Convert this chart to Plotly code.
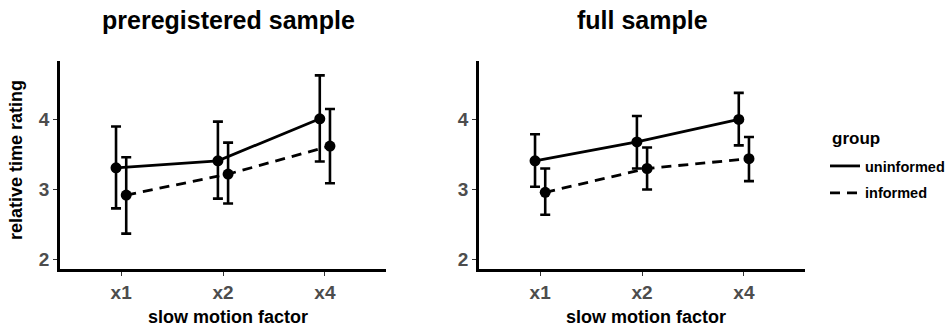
import plotly.graph_objects as go

# ---------------- data ----------------
categories = ["x1", "x2", "x4"]
groups = ["uninformed", "informed"]

pre_uninf_mean = [3.31, 3.41, 4.01]
pre_uninf_lo = [2.73, 2.87, 3.40]
pre_uninf_hi = [3.90, 3.97, 4.63]
pre_inf_mean = [2.92, 3.22, 3.62]
pre_inf_lo = [2.37, 2.80, 3.09]
pre_inf_hi = [3.46, 3.67, 4.15]

full_uninf_mean = [3.41, 3.68, 4.00]
full_uninf_lo = [3.04, 3.30, 3.63]
full_uninf_hi = [3.79, 4.05, 4.38]
full_inf_mean = [2.96, 3.30, 3.44]
full_inf_lo = [2.64, 3.00, 3.12]
full_inf_hi = [3.30, 3.60, 3.75]

y_ticks = [2, 3, 4]
panel_titles = ["preregistered sample", "full sample"]
x_title = "slow motion factor"
y_title = "relative time rating"
legend_title = "group"

# ---------------- figure ----------------
W, H = 950, 332
FONT = "Liberation Sans, Arial, sans-serif"
dodge = {"uninformed": -0.05, "informed": 0.05}
dash = {"uninformed": "solid", "informed": "10px,7px"}

def px_x(v):
    return v / W

def px_y(v):
    return 1 - v / H

panels = [
    ("x", "y", {"uninformed": (pre_uninf_mean, pre_uninf_lo, pre_uninf_hi),
                "informed": (pre_inf_mean, pre_inf_lo, pre_inf_hi)}),
    ("x2", "y2", {"uninformed": (full_uninf_mean, full_uninf_lo, full_uninf_hi),
                  "informed": (full_inf_mean, full_inf_lo, full_inf_hi)}),
]

fig = go.Figure()
idx = list(range(1, len(categories) + 1))
for xa, ya, data in panels:
    for g in groups:
        m, lo, hi = data[g]
        fig.add_trace(go.Scatter(
            x=[i + dodge[g] for i in idx], y=m,
            xaxis=xa, yaxis=ya,
            mode="lines+markers",
            line=dict(color="black", width=2.8, dash=dash[g]),
            marker=dict(color="black", size=11),
            error_y=dict(type="data", symmetric=False,
                         array=[h - v for h, v in zip(hi, m)],
                         arrayminus=[v - l for v, l in zip(m, lo)],
                         color="black", thickness=2.6, width=5),
            showlegend=False, name=g,
        ))

# legend-only traces (line only, like the ggplot key)
for k, g in enumerate(groups):
    fig.add_trace(go.Scatter(
        x=[None], y=[None], mode="lines", name="<b>" + g + "</b>", legendgroup=g,
        line=dict(color="black", width=2.8, dash=dash[g]),
        showlegend=True,
    ))

y_dom = [px_y(269), px_y(61)]
axis_common = dict(
    showgrid=False, zeroline=False, showline=True, linecolor="black",
    linewidth=2.6, ticks="outside", ticklen=4, tickwidth=1.2,
    tickcolor="#333333", automargin=False,
    tickfont=dict(family=FONT, size=19, color="#4D4D4D"),
)
x_ticktext = ["<b>" + c + "</b>" for c in categories]
y_ticktext = ["<b>" + str(t) + "</b>" for t in y_ticks]
fig.update_layout(
    width=W, height=H,
    margin=dict(l=0, r=0, t=0, b=0, autoexpand=False),
    paper_bgcolor="white", plot_bgcolor="white",
    font=dict(family=FONT, color="black"),
    xaxis=dict(domain=[px_x(60), px_x(386)], range=[0.4, 3.6],
               tickvals=idx, ticktext=x_ticktext, anchor="y", **axis_common),
    yaxis=dict(domain=y_dom, range=[1.865, 4.835], tickvals=y_ticks,
               ticktext=y_ticktext, anchor="x", **axis_common),
    xaxis2=dict(domain=[px_x(479), px_x(805)], range=[0.4, 3.6],
                tickvals=idx, ticktext=x_ticktext, anchor="y2", **axis_common),
    yaxis2=dict(domain=y_dom, range=[1.865, 4.835], tickvals=y_ticks,
                ticktext=y_ticktext, anchor="x2", **axis_common),
    legend=dict(
        x=px_x(825), y=px_y(150), xanchor="left", yanchor="top",
        font=dict(family=FONT, size=14.5, color="black"),
        tracegroupgap=5, bgcolor="rgba(0,0,0,0)",
    ),
)

annotations = []
for title, cx in zip(panel_titles, [228, 642]):
    annotations.append(dict(
        text="<b>" + title + "</b>", x=px_x(cx), y=px_y(20),
        xref="paper", yref="paper", xanchor="center", yanchor="middle",
        showarrow=False, font=dict(family=FONT, size=25, color="black")))
for cx in [228, 646]:
    annotations.append(dict(
        text="<b>" + x_title + "</b>", x=px_x(cx), y=px_y(317),
        xref="paper", yref="paper", xanchor="center", yanchor="middle",
        showarrow=False, font=dict(family=FONT, size=18, color="black")))
annotations.append(dict(
    text="<b>" + y_title + "</b>", x=px_x(16), y=px_y(160),
    xref="paper", yref="paper", xanchor="center", yanchor="middle",
    textangle=-90, showarrow=False,
    font=dict(family=FONT, size=18, color="black")))
annotations.append(dict(
    text="<b>" + legend_title + "</b>", x=px_x(830), y=px_y(138),
    xref="paper", yref="paper", xanchor="left", yanchor="middle",
    showarrow=False, font=dict(family=FONT, size=17, color="black")))
fig.update_layout(annotations=annotations)

fig.write_html(
    "out.html",
    config={"displayModeBar": False},
    post_script="document.body.style.margin='0';"
                "document.body.style.overflow='hidden';",
)
